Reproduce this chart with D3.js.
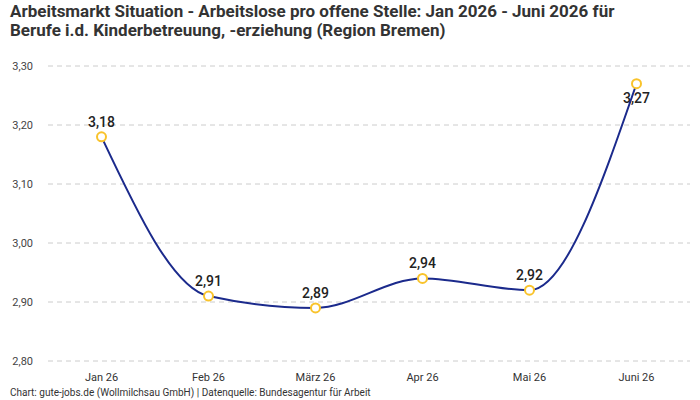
<!DOCTYPE html>
<html>
<head>
  <meta charset="utf-8">
  <script src="https://d3js.org/d3.v7.min.js"></script>
  <style>
    body { margin: 0; background: #fff; }
    text { font-family: Roboto, "Noto Sans", sans-serif; }
  </style>
</head>
<body>
  <div id="chart"></div>
  <script>
    const months = ["Jan 26", "Feb 26", "März 26", "Apr 26", "Mai 26", "Juni 26"];
    const values = [3.18, 2.91, 2.89, 2.94, 2.92, 3.27];
    const yTicks = [2.8, 2.9, 3.0, 3.1, 3.2, 3.3];
    const titleLines = [
      "Arbeitsmarkt Situation - Arbeitslose pro offene Stelle: Jan 2026 - Juni 2026 für",
      "Berufe i.d. Kinderbetreuung, -erziehung (Region Bremen)"
    ];
    const source = "Chart: gute-jobs.de (Wollmilchsau GmbH) | Datenquelle: Bundesagentur für Arbeit";

    const width = 700, height = 400;
    const margin = { top: 66, right: 10, bottom: 39, left: 48 };

    const svg = d3.select("#chart").append("svg")
      .attr("width", width).attr("height", height);

    const fmt = v => d3.format(".2f")(v).replace(".", ",");

    const x = d3.scalePoint().domain(months)
      .range([margin.left, width - margin.right]).padding(0.5);
    const y = d3.scaleLinear().domain([2.8, 3.3])
      .range([height - margin.bottom, margin.top]);

    // title
    svg.append("g").selectAll("text").data(titleLines).join("text")
      .attr("x", 10).attr("y", (d, i) => 17 + i * 19)
      .attr("font-size", 17).attr("font-weight", "bold").attr("fill", "#333")
      .text(d => d);

    // grid + y labels
    const grid = svg.append("g");
    grid.selectAll("line").data(yTicks).join("line")
      .attr("x1", margin.left).attr("x2", width - margin.right)
      .attr("y1", d => y(d)).attr("y2", d => y(d))
      .attr("stroke", "#ccc").attr("stroke-dasharray", "5,4");
    grid.selectAll("text").data(yTicks).join("text")
      .attr("x", 33).attr("y", d => y(d) + 4)
      .attr("text-anchor", "end").attr("font-size", 11).attr("fill", "#444")
      .text(fmt);

    // x labels
    svg.append("g").selectAll("text").data(months).join("text")
      .attr("x", d => x(d)).attr("y", 381)
      .attr("text-anchor", "middle").attr("font-size", 11).attr("fill", "#333")
      .text(d => d);

    const data = months.map((m, i) => ({ m, v: values[i] }));

    const line = d3.line().x(d => x(d.m)).y(d => y(d.v)).curve(d3.curveMonotoneX);
    svg.append("path").datum(data)
      .attr("fill", "none").attr("stroke", "#1b2a8c").attr("stroke-width", 2)
      .attr("d", line);

    svg.append("g").selectAll("circle").data(data).join("circle")
      .attr("cx", d => x(d.m)).attr("cy", d => y(d.v)).attr("r", 4.5)
      .attr("fill", "#fff").attr("stroke", "#f9c32b").attr("stroke-width", 2);

    svg.append("g").selectAll("text").data(data).join("text")
      .attr("x", d => x(d.m))
      .attr("y", d => y(d.v) - 10 < margin.top + 10 ? y(d.v) + 19 : y(d.v) - 10)
      .attr("text-anchor", "middle").attr("font-size", 14).attr("font-weight", 500)
      .attr("fill", "#222")
      .text(d => fmt(d.v));

    svg.append("text")
      .attr("x", 10).attr("y", 396).attr("font-size", 10).attr("fill", "#333")
      .text(source);
  </script>
</body>
</html>
